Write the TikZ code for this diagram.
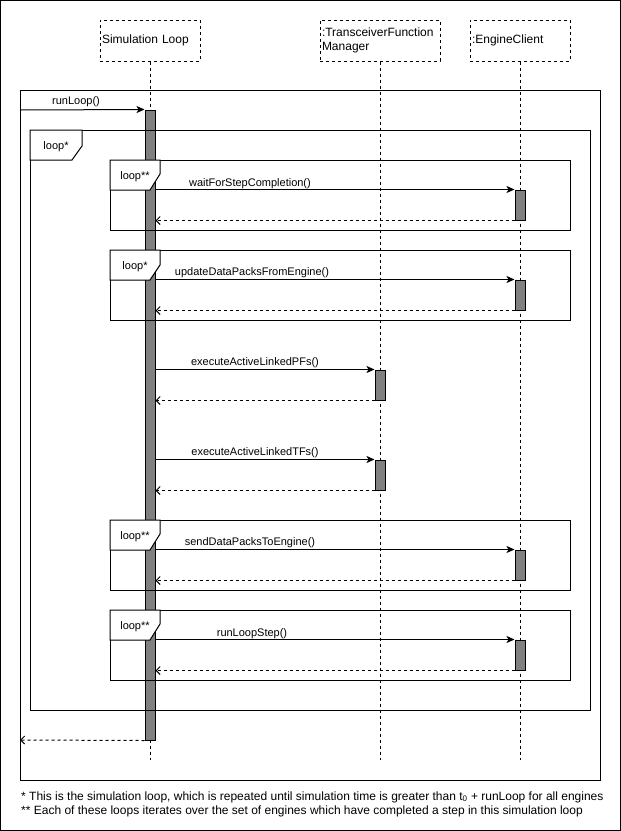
\documentclass[tikz,border=0pt]{standalone}
\usepackage{fontspec}
\setmainfont{Liberation Sans}
\usetikzlibrary{arrows.meta}
\definecolor{barfill}{HTML}{808080}
\newcommand{\looptag}[7]{%
  \draw[frameline, fill=white] (#1,#2) -- ++(#3,0) -- ++(0,#5) -- ({#1+#3-10},{#2+#4}) -- (#1,{#2+#4}) -- cycle;
  \node[msg, anchor=base] (#7) at ({#1+#3/2},{#2+#4/2+4}) {#6};
}
\begin{document}
\begin{tikzpicture}[x=1pt,y=-1pt,
  lifebox/.style={draw, dash pattern=on 3pt off 3pt, line width=1pt, minimum height=41pt, inner xsep=2pt, inner ysep=0pt, align=left, font=\fontsize{12}{14}\selectfont},
  lifeline/.style={line width=1pt, dash pattern=on 3pt off 3pt},
  bar/.style={draw, fill=barfill, line width=1pt, minimum width=10pt, inner sep=0pt},
  frameline/.style={line width=1pt},
  call/.style={line width=1pt, -{Stealth[length=8pt,width=7pt,inset=2pt]}},
  ret/.style={line width=1pt, dash pattern=on 3pt off 3pt, -{Straight Barb[length=4pt,width=8pt]}},
  msg/.style={inner sep=0pt, font=\fontsize{11}{13}\selectfont},
  note/.style={inner sep=0pt, font=\fontsize{12}{14}\selectfont},
]
\useasboundingbox (0,0) rectangle (621,831);
\draw[line width=1pt] (0.5,0.5) rectangle (620.5,830.5);

% lifeline heads
\node[lifebox, text width=96pt, minimum width=100pt] (sim) at (150,40.5) {Simulation Loop};
\node[lifebox, text width=116pt, minimum width=120pt] (tfm) at (380,40.5) {:TransceiverFunction\\Manager};
\node[lifebox, text width=96pt, minimum width=100pt] (eng) at (520,40.5) {:EngineClient};

\coordinate (simend) at (150,760);
\coordinate (tfmend) at (380,760);
\coordinate (engend) at (520,760);
\draw[lifeline] (sim.south) -- (simend);
\draw[lifeline] (tfm.south) -- (tfmend);
\draw[lifeline] (eng.south) -- (engend);

% activation bars
\node[bar, minimum height=630pt] (sb) at (150,425) {};
\node[bar, minimum height=30pt] (eb1) at (520,205) {};
\node[bar, minimum height=30pt] (eb2) at (520,295) {};
\node[bar, minimum height=30pt] (tb1) at (380,385) {};
\node[bar, minimum height=30pt] (tb2) at (380,475) {};
\node[bar, minimum height=30pt] (eb3) at (520,565) {};
\node[bar, minimum height=30pt] (eb4) at (520,655) {};

% frames
\draw[frameline] (20,90) rectangle (600,780);
\draw[frameline] (30,130) rectangle (590,710);
\draw[frameline] (110,160) rectangle (570,230);
\draw[frameline] (110,250) rectangle (570,320);
\draw[frameline] (110,520) rectangle (570,590);
\draw[frameline] (110,610) rectangle (570,680);
\looptag{30}{130}{52}{30}{16}{loop*}{l0}
\looptag{110}{160}{50}{30}{14}{loop**}{l1}
\looptag{110}{250}{50}{30}{15}{loop*}{l2}
\looptag{110}{520}{50}{30}{14}{loop**}{l3}
\looptag{110}{610}{50}{30}{14}{loop**}{l4}

% messages
\coordinate (in) at (20,110);
\coordinate (out) at (20,740);
\draw[call] (in) -- (sb.north west);
\draw[ret] (sb.south west) -- (out);

\draw[call] (sb.east |- eb1.north) -- (eb1.north west);
\draw[ret] (eb1.south west) -- (sb.east |- eb1.south);
\draw[call] (sb.east |- eb2.north) -- (eb2.north west);
\draw[ret] (eb2.south west) -- (sb.east |- eb2.south);
\draw[call] (sb.east |- tb1.north) -- (tb1.north west);
\draw[ret] (tb1.south west) -- (sb.east |- tb1.south);
\draw[call] (sb.east |- tb2.north) -- (tb2.north west);
\draw[ret] (tb2.south west) -- (sb.east |- tb2.south);
\draw[call] (sb.east |- eb3.north) -- (eb3.north west);
\draw[ret] (eb3.south west) -- (sb.east |- eb3.south);
\draw[call] (sb.east |- eb4.north) -- (eb4.north west);
\draw[ret] (eb4.south west) -- (sb.east |- eb4.south);

\node[msg, anchor=base] (m0) at (76,104) {runLoop()};
\node[msg, anchor=base] (m1) at (250,186) {waitForStepCompletion()};
\node[msg, anchor=base] (m2) at (252,275) {updateDataPacksFromEngine()};
\node[msg, anchor=base] (m3) at (255,365) {executeActiveLinkedPFs()};
\node[msg, anchor=base] (m4) at (255,455) {executeActiveLinkedTFs()};
\node[msg, anchor=base] (m5) at (250,545) {sendDataPacksToEngine()};
\node[msg, anchor=base] (m6) at (252,636) {runLoopStep()};

% footnotes
\node[note, anchor=base west] (n1) at (21,800) {* This is the simulation loop, which is repeated until simulation time is greater than t\textsubscript{0} + runLoop for all engines};
\node[note, anchor=base west] (n2) at (21,814) {** Each of these loops iterates over the set of engines which have completed a step in this simulation loop};
\end{tikzpicture}
\end{document}
